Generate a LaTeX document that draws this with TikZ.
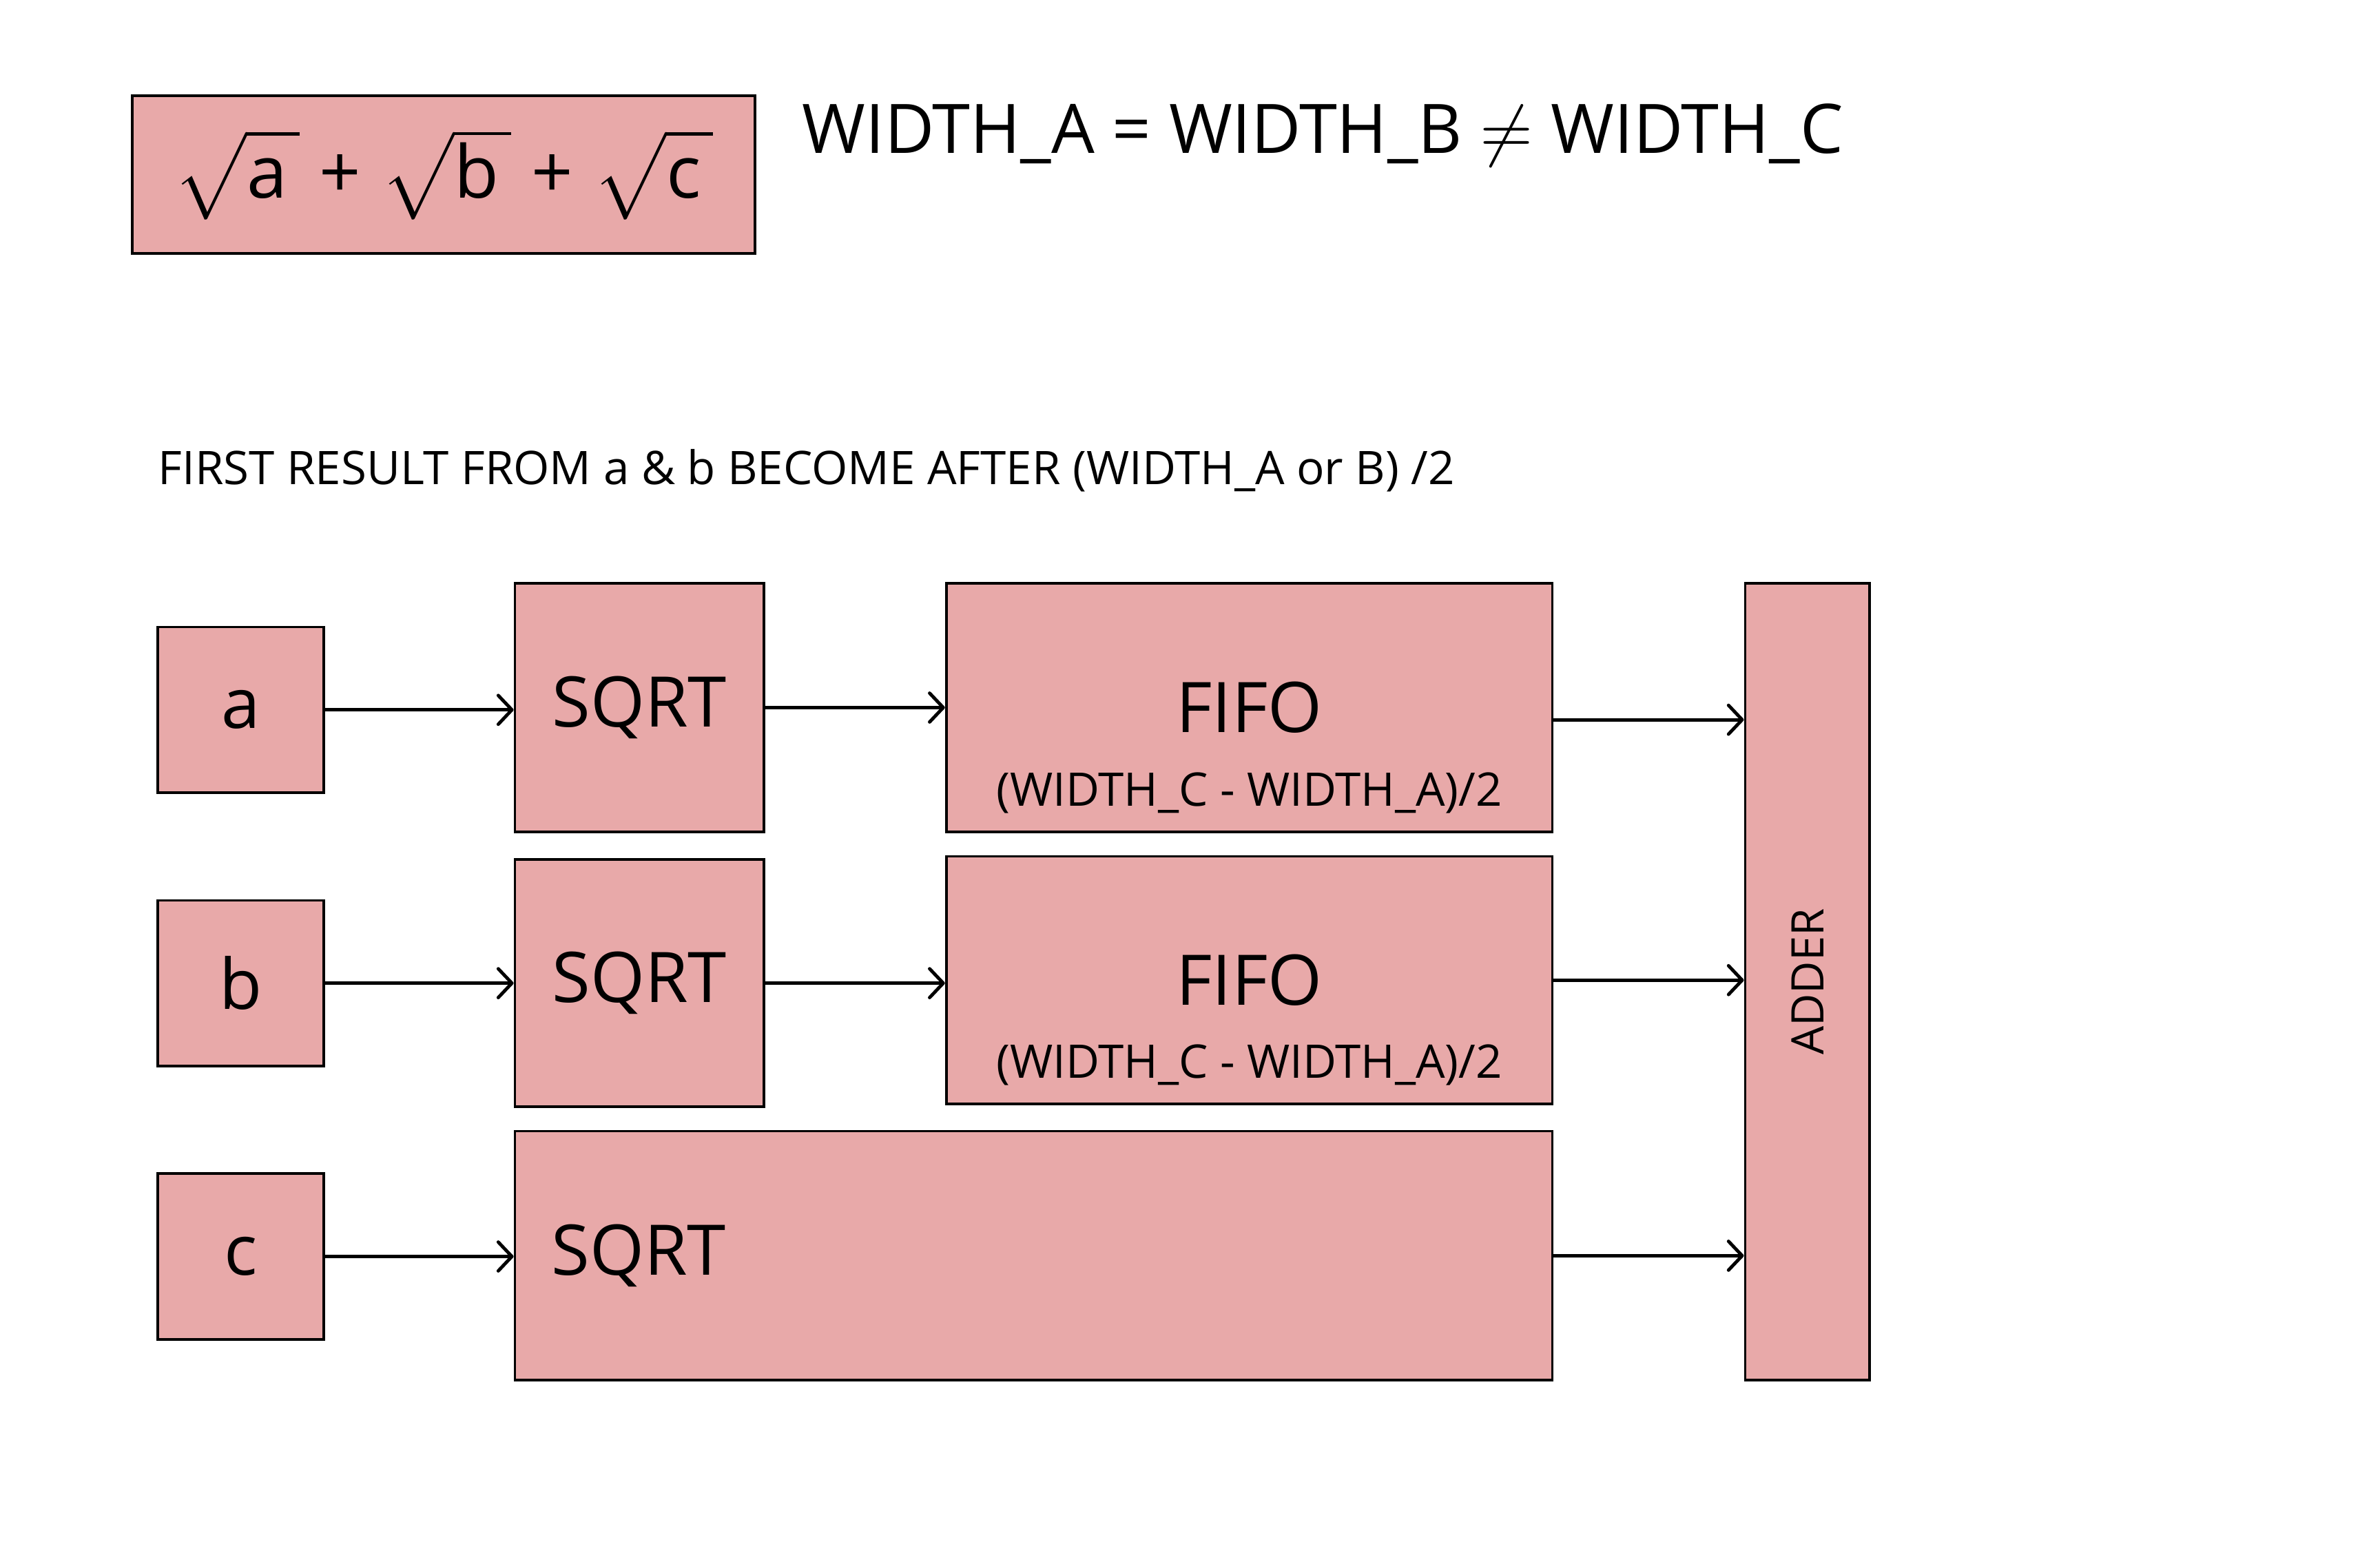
\documentclass[tikz,border=0pt]{standalone}
\usepackage{amsmath}
\usepackage{fontspec}
\setmainfont{Open Sans}
\usetikzlibrary{arrows.meta}
\definecolor{blockpink}{RGB}{232,169,169}

\begin{document}
\begin{tikzpicture}[>={Straight Barb[length=9pt,width=19pt,round]},x=1pt,y=-1pt,
	block/.style={draw=black,line width=1.7pt,fill=blockpink,inner sep=0pt,font=\fontsize{46}{55}\selectfont},
	arr/.style={->,line width=2.2pt}]
	\useasboundingbox (0,0) rectangle (1567,1024);
	% heading
	\node[block,minimum width=410,minimum height=104] (formula) at (292,115)
		{\raisebox{-4pt}{\scalebox{4.8}{\normalsize$\sqrt{\mathstrut\text{a}\,}\;\text{+}\;\sqrt{\mathstrut\text{b}\,}\;\text{+}\;\sqrt{\mathstrut\text{c}\,}$}}\hspace{14pt}};
	\node[anchor=base west,inner sep=0pt,font=\fontsize{45}{54}\selectfont] (widths) at (528,101)
		{WIDTH\_A = WIDTH\_B \scalebox{4.5}{\normalsize$\neq$} WIDTH\_C};
	\node[anchor=base west,inner sep=0pt,font=\fontsize{30.5}{36}\selectfont] (note) at (104,319)
		{FIRST RESULT FROM a \& b BECOME AFTER (WIDTH\_A or B) /2};
	% inputs
	\node[block,minimum width=109,minimum height=109] (a) at (158.5,467.5) {a};
	\node[block,minimum width=109,minimum height=109] (b) at (158.5,647.5) {b};
	\node[block,minimum width=109,minimum height=109] (c) at (158.5,827.5) {c};
	% square roots
	\node[block,minimum width=164,minimum height=164] (sqrtA) at (421,466) {SQRT};
	\node[block,minimum width=164,minimum height=163] (sqrtB) at (421,647.5) {SQRT};
	\node[block,minimum height=164,text width=635,inner xsep=24,align=left] (sqrtC) at (680.5,827) {SQRT};
	% delays
	\node[block,minimum width=399,minimum height=164,
		label={[anchor=base,yshift=18pt,inner sep=0pt,font=\fontsize{30.5}{36}\selectfont]south:(WIDTH\_C - WIDTH\_A)/2}]
		(fifoA) at (822.5,466) {FIFO};
	\node[block,minimum width=399,minimum height=163,
		label={[anchor=base,yshift=18pt,inner sep=0pt,font=\fontsize{30.5}{36}\selectfont]south:(WIDTH\_C - WIDTH\_A)/2}]
		(fifoB) at (822.5,645.5) {FIFO};
	\node[block,minimum width=82,minimum height=525,font=\fontsize{29.5}{35}\selectfont] (adder) at (1190,646.5)
		{\rotatebox{90}{ADDER}};
	% connections
	\draw[arr] (a.east) -- (a.east -| sqrtA.west);
	\draw[arr] (b.east) -- (b.east -| sqrtB.west);
	\draw[arr] (c.east) -- (c.east -| sqrtC.west);
	\draw[arr] (sqrtA.east) -- (sqrtA.east -| fifoA.west);
	\draw[arr] (sqrtB.east) -- (sqrtB.east -| fifoB.west);
	\draw[arr] ([yshift=-8pt]fifoA.east) -- ([yshift=-8pt]fifoA.east -| adder.west);
	\draw[arr] (fifoB.east) -- (fifoB.east -| adder.west);
	\draw[arr] (sqrtC.east) -- (sqrtC.east -| adder.west);
\end{tikzpicture}
\end{document}
